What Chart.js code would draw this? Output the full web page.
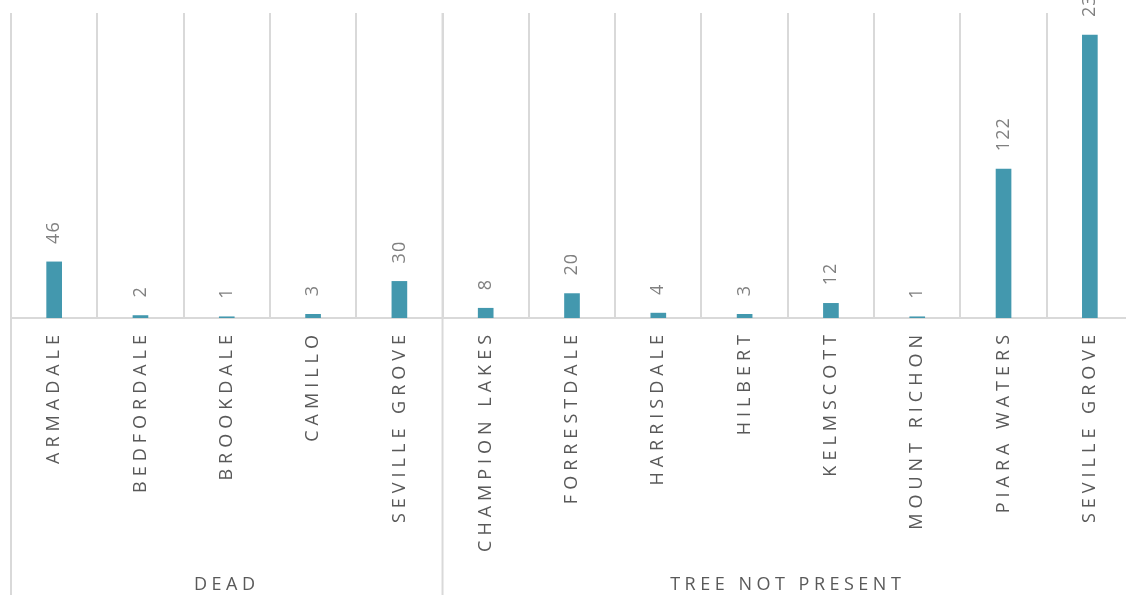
<!DOCTYPE html>
<html lang="en">
<head>
<meta charset="UTF-8">
<title>Trees by suburb</title>
<script src="https://cdn.jsdelivr.net/npm/chart.js"></script>
<style>
  html, body { margin: 0; padding: 0; background: #fff; overflow: hidden; }
  .chart-box { position: relative; width: 1140px; height: 595px; }
</style>
</head>
<body>
<div class="chart-box"><canvas id="chart"></canvas></div>
<script>
const suburbs = ['ARMADALE', 'BEDFORDALE', 'BROOKDALE', 'CAMILLO', 'SEVILLE GROVE',
  'CHAMPION LAKES', 'FORRESTDALE', 'HARRISDALE', 'HILBERT', 'KELMSCOTT',
  'MOUNT RICHON', 'PIARA WATERS', 'SEVILLE GROVE'];
const counts = [46, 2, 1, 3, 30, 8, 20, 4, 3, 12, 1, 122, 232];
const groups = ['DEAD', 'TREE NOT PRESENT'];
const groupSizes = [5, 8];

const lineColor = '#d9d9d9';
const font = '"Open Sans", sans-serif';

// value labels above bars, group separators and group names under the axis
const labels = {
  id: 'labels',
  beforeDraw(chart) {
    chart.ctx.letterSpacing = '5px';
  },
  afterDatasetsDraw(chart) {
    const ctx = chart.ctx;
    ctx.save();
    ctx.letterSpacing = '1px';
    ctx.font = '18px ' + font;
    ctx.fillStyle = '#808080';
    ctx.textAlign = 'left';
    ctx.textBaseline = 'middle';
    chart.getDatasetMeta(0).data.forEach((bar, i) => {
      ctx.save();
      ctx.translate(bar.x, bar.y - 18);
      ctx.rotate(-Math.PI / 2);
      ctx.fillText(String(counts[i]), 0, 0);
      ctx.restore();
    });
    ctx.restore();
  },
  afterDraw(chart) {
    const ctx = chart.ctx;
    const x = chart.scales.x;
    const top = chart.chartArea.top;
    const h = chart.height;
    const step = x.getPixelForValue(1) - x.getPixelForValue(0);
    const edge = i => x.getPixelForValue(i) - step / 2;
    ctx.save();
    ctx.strokeStyle = lineColor;
    ctx.lineWidth = 2;
    ctx.letterSpacing = '4.5px';
    ctx.font = '18px ' + font;
    ctx.fillStyle = '#595959';
    ctx.textAlign = 'center';
    ctx.textBaseline = 'middle';
    let start = 0;
    groupSizes.forEach((n, g) => {
      const a = edge(start), b = edge(start + n);
      ctx.beginPath();
      ctx.moveTo(a, top);
      ctx.lineTo(a, h);
      ctx.stroke();
      ctx.fillText(groups[g], (a + b) / 2, h - 10);
      start += n;
    });
    ctx.restore();
  }
};

new Chart(document.getElementById('chart'), {
  type: 'bar',
  data: {
    labels: suburbs,
    datasets: [{
      data: counts,
      backgroundColor: '#4398ae',
      barThickness: 15
    }]
  },
  options: {
    responsive: true,
    maintainAspectRatio: false,
    animation: false,
    layout: { padding: { top: 13, left: 11, right: 7, bottom: 0 } },
    plugins: { legend: { display: false }, tooltip: { enabled: false } },
    scales: {
      x: {
        afterFit(scale) { scale.height = 277; scale.paddingLeft = 0; scale.paddingRight = 0; },
        grid: { offset: true, color: lineColor, lineWidth: 2, drawTicks: false },
        border: { display: true, color: lineColor, width: 2 },
        ticks: {
          autoSkip: false,
          minRotation: 90,
          maxRotation: 90,
          padding: 12,
          color: '#595959',
          font: { family: font, size: 18 }
        }
      },
      y: {
        display: false,
        min: 0,
        max: 250
      }
    }
  },
  plugins: [labels]
});
</script>
</body>
</html>
